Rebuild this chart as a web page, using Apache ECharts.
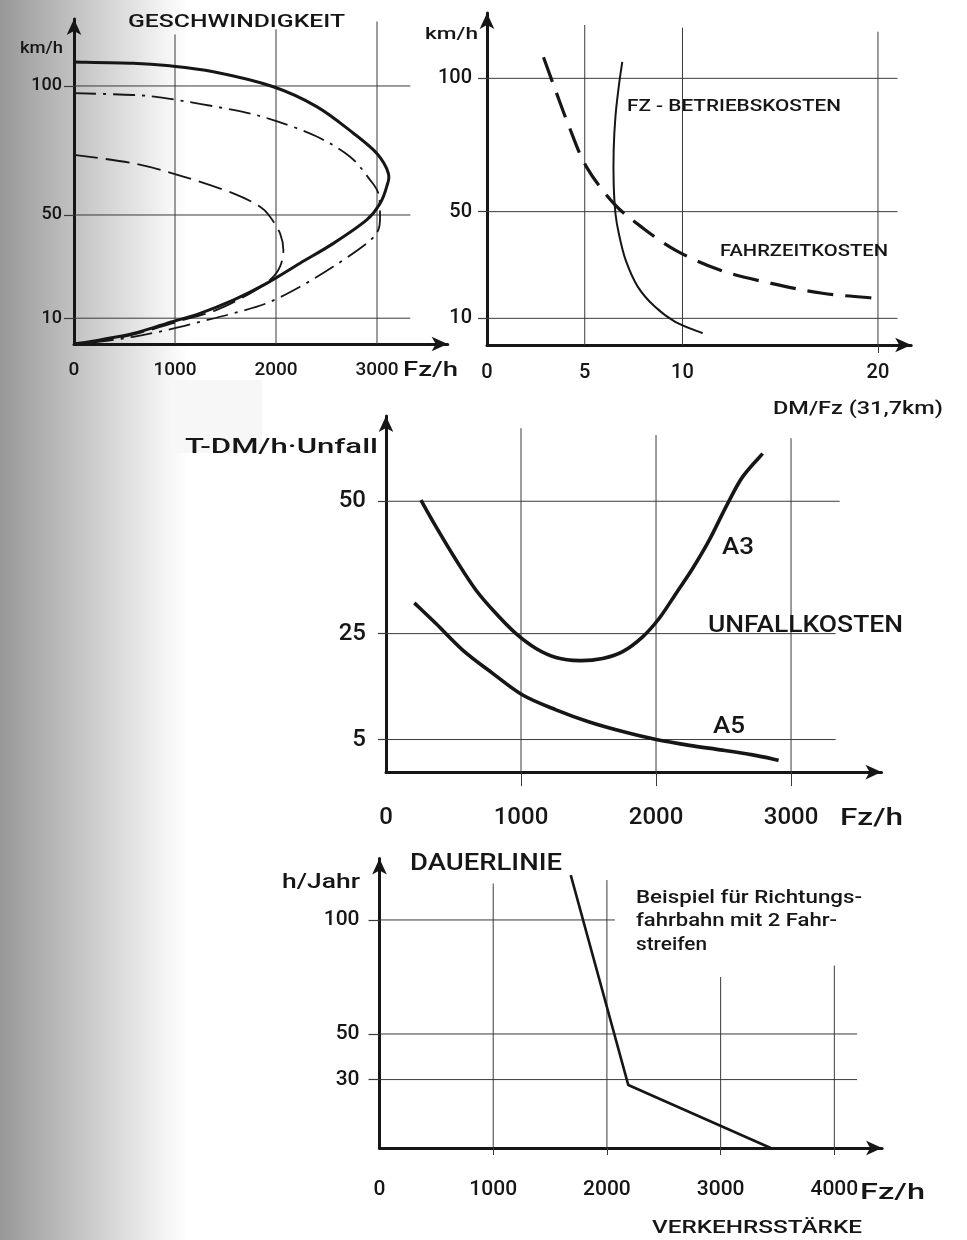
<!DOCTYPE html>
<html><head><meta charset="utf-8">
<style>html,body{margin:0;padding:0;background:#fff}#c{width:967px;height:1240px}</style>
<script src="https://cdn.jsdelivr.net/npm/echarts@6.0.0/dist/echarts.min.js"></script>
</head><body><div id="c"></div>
<script>
// ---------- Panel 1: GESCHWINDIGKEIT (km/h vs Fz/h) ----------
const p1XTicks = [0, 1000, 2000, 3000];
const p1YTicks = [10, 50, 100];
const p1VGridX = [1000, 2000, 3000];
const p1VGridTop = [120, 122, 125];
const p1HGridY = [10, 50, 100];
const p1HGridRight = [3330, 3330, 3330];
const p1Solid = [[0,109.3],[587,108.8],[918,107.9],[1380,105.5],[1973,99.7],[2403,92],[2766,81.7],[2997,73.9],[3112,66.2],[3096,61],[3030,54.5],[2898,48.1],[2568,39],[2238,31.3],[1908,23.5],[1577,17],[1248,11.9],[918,8],[587,4.1],[257,1.6],[0,0]];
const p1DashDot = [[0,97.2],[587,96.5],[918,95.2],[1577,90.7],[1973,86.8],[2403,80.4],[2733,72.6],[2931,63.6],[3013,58.4],[3030,50.7],[3013,44.2],[2898,39],[2568,30],[2238,22.2],[1908,15.8],[1577,11.9],[1248,8.6],[918,5.4],[587,2.8],[257,0.9],[0,0]];
const p1Dashed = [[0,73.3],[587,70],[1082,64.9],[1577,58.4],[1842,53.2],[1941,49.3],[2040,42.9],[2073,36.4],[2040,30],[1941,24.8],[1743,19.6],[1413,13.2],[1082,9.3],[752,5.4],[423,2.2],[0,0]];

// ---------- Panel 2: Kosten (km/h vs DM/Fz) ----------
const p2XTicks = [0, 5, 10, 20];
const p2YTicks = [10, 50, 100];
const p2VGridX = [5, 10, 20];
const p2VGridTop = [120, 119, 117.5];
const p2HGridY = [10, 50, 100];
const p2HGridRight = [21, 21, 21];
const p2Betrieb = [[6.92,106.2],[6.74,96.9],[6.57,85.6],[6.48,73.1],[6.48,60.6],[6.57,49.4],[6.74,41.9],[7.09,31.9],[7.71,21.9],[8.58,14.4],[9.63,8.7],[11.03,4.4]];
const p2Fahrzeit = [[2.89,107.9],[3.5,95.6],[4.2,81.9],[5.08,66.9],[6.48,53.1],[7.88,44.4],[9.63,35.6],[11.91,28.1],[14.54,23.1],[17.16,19.4],[20,17.5]];

// ---------- Panel 3: UNFALLKOSTEN ----------
const p3XTicks = [0, 1000, 2000, 3000];
const p3YTicks = [5, 25, 50];
const p3VGridX = [1000, 2000, 3000];
const p3VGridTop = [63.8, 62.5, 61.9];
const p3HGridY = [5, 25, 50];
const p3HGridRight = [3330, 3330, 3360];
const p3A3 = [[259,50.2],[370,45.2],[519,38.9],[667,33.2],[815,28.8],[963,25.0],[1111,22.2],[1259,20.5],[1432,19.9],[1604,20.3],[1753,21.6],[1901,24.4],[2024,27.9],[2148,32.6],[2271,37.3],[2395,42.7],[2519,49.0],[2641,54.6],[2790,59.0]];
const p3A5 = [[210,30.8],[370,26.9],[568,21.9],[790,17.5],[1012,13.4],[1259,10.6],[1506,8.3],[1753,6.5],[2000,5.0],[2247,3.9],[2494,3.0],[2716,2.1],[2908,1.1]];

// ---------- Panel 4: DAUERLINIE ----------
const p4XTicks = [0, 1000, 2000, 3000, 4000];
const p4YTicks = [30, 50, 100];
const p4VGridX = [1000, 2000, 3000, 4000];
const p4VGridTop = [116, 117.5, 75, 80];
const p4HGridY = [30, 50, 100];
const p4HGridRight = [4200, 4200, 2070];
const p4Dauer = [[1682,119.7],[2188,27.6],[3440,0]];

// ---------- Styling & layout ----------
const FONT = 'Roboto, "DejaVu Sans", sans-serif';
const INK = '#161616';
const GRIDC = '#3a3a3a';

const panels = [
  {grid:{left:74, top:18.9, width:373.7, height:325.1}, xMin:0, xMax:3700, yMin:0, yMax:126,
   xTicks:p1XTicks, yTicks:p1YTicks, xFs:19, yFs:18, xMargin:17, yMargin:12, yTickLen:10, xTickVals:[], xTickLen:0},
  {grid:{left:487, top:13, width:424.2, height:332}, xMin:0, xMax:21.7, yMin:0, yMax:124.5,
   xTicks:p2XTicks, yTicks:p2YTicks, xFs:20, yFs:20, xMargin:18, yMargin:15, yTickLen:9, xTickVals:[20], xTickLen:8},
  {grid:{left:386, top:416, width:495.5, height:356.1}, xMin:0, xMax:3670, yMin:-1.15, yMax:66.1,
   xTicks:p3XTicks, yTicks:p3YTicks, xFs:24, yFs:24, xMargin:34, yMargin:20, yTickLen:8, xTickVals:[1000,2000,3000], xTickLen:14},
  {grid:{left:379.5, top:858.4, width:502.6, height:289.6}, xMin:0, xMax:4420, yMin:0, yMax:127,
   xTicks:p4XTicks, yTicks:p4YTicks, xFs:21, yFs:21, xMargin:31, yMargin:20, yTickLen:11, xTickVals:[1000,2000,3000,4000], xTickLen:7}
];

const fmt = v => String(v);
const axisLineStyle = {show:true, onZero:false, lineStyle:{color:INK, width:3}, symbol:['none','arrow'], symbolSize:[11,16]};

const grids = panels.map(p => Object.assign({outerBoundsMode:'none', containLabel:false}, p.grid));
const xAxes = panels.map((p,i) => ({
  gridIndex:i, type:'value', min:p.xMin, max:p.xMax, splitLine:{show:false},
  axisLine:axisLineStyle,
  axisTick:{show:p.xTickVals.length>0, customValues:p.xTickVals.length?p.xTickVals:undefined, length:p.xTickLen, lineStyle:{color:GRIDC,width:1}},
  axisLabel:{customValues:p.xTicks, formatter:fmt, fontFamily:FONT, fontSize:p.xFs, fontWeight:500, color:INK, margin:p.xMargin}
}));
const yAxes = panels.map((p,i) => ({
  gridIndex:i, type:'value', min:p.yMin, max:p.yMax, splitLine:{show:false},
  axisLine:axisLineStyle,
  axisTick:{show:true, customValues:p.yTicks, length:p.yTickLen, lineStyle:{color:GRIDC,width:1.2}},
  axisLabel:{customValues:p.yTicks, formatter:fmt, fontFamily:FONT, fontSize:p.yFs, fontWeight:500, color:INK, margin:p.yMargin}
}));

function seg(i, data){
  return {type:'line', xAxisIndex:i, yAxisIndex:i, data, symbol:'none', silent:true, z:1,
          lineStyle:{width:1, color:GRIDC}, animation:false, clip:false};
}
function gridLines(i, vx, vtop, hy, hright){
  const ymin = panels[i].yMin;
  const out = [];
  vx.forEach((x,k)=>out.push(seg(i, [[x, ymin],[x, vtop[k]]])));
  hy.forEach((y,k)=>out.push(seg(i, [[0, y],[hright[k], y]])));
  return out;
}
// Smooth curve: the read points are mapped through the axes (api.coord) and joined with a
// Catmull-Rom style bezier path.
function curve(i, pts, width, dash){
  return {
    type:'custom', xAxisIndex:i, yAxisIndex:i, data: pts, silent:true, z:3, animation:false, clip:false,
    encode:{x:0, y:1},
    renderItem: function(params, api){
      if (params.dataIndex !== 0) return null;
      const c = pts.map(p => api.coord(p));
      let d = 'M' + c[0][0] + ',' + c[0][1];
      for (let k = 0; k < c.length - 1; k++){
        const p0 = c[k-1] || c[k], p1 = c[k], p2 = c[k+1], p3 = c[k+2] || c[k+1];
        const c1x = p1[0] + (p2[0]-p0[0])/6, c1y = p1[1] + (p2[1]-p0[1])/6;
        const c2x = p2[0] - (p3[0]-p1[0])/6, c2y = p2[1] - (p3[1]-p1[1])/6;
        d += ' C' + c1x + ',' + c1y + ' ' + c2x + ',' + c2y + ' ' + p2[0] + ',' + p2[1];
      }
      return {type:'path', shape:{pathData:d},
              style:{fill:null, stroke:INK, lineWidth:width, lineDash:dash || null, lineCap:'butt', lineJoin:'round'}};
    }
  };
}
function poly(i, data, width){
  return {type:'line', xAxisIndex:i, yAxisIndex:i, data, symbol:'none', silent:true, z:3,
          lineStyle:{width, color:INK}, animation:false, clip:false};
}

const series = [].concat(
  gridLines(0, p1VGridX, p1VGridTop, p1HGridY, p1HGridRight),
  gridLines(1, p2VGridX, p2VGridTop, p2HGridY, p2HGridRight),
  gridLines(2, p3VGridX, p3VGridTop, p3HGridY, p3HGridRight),
  gridLines(3, p4VGridX, p4VGridTop, p4HGridY, p4HGridRight),
  [
    curve(0, p1Solid, 3),
    curve(0, p1DashDot, 1.8, [22,7,3,7]),
    curve(0, p1Dashed, 1.8, [24,8]),
    curve(1, p2Betrieb, 2),
    curve(1, p2Fahrzeit, 3.2, [26,12]),
    curve(2, p3A3, 3.6),
    curve(2, p3A5, 3.6),
    poly(3, p4Dauer, 2.6)
  ]
);

// ---------- Text labels (stretched to reference widths) ----------
const mctx = document.createElement('canvas').getContext('2d');
function txt(text, x, y, size, w, weight){
  const font = (weight||'500') + ' ' + size + 'px ' + FONT;
  mctx.font = font;
  const mw = mctx.measureText(text).width || 1;
  return {type:'text', x, y, scaleX: w ? w/mw : 1, z:50, silent:true,
          style:{text, font, fill:INK, align:'left', verticalAlign:'middle'}};
}
const labels = [
  txt('GESCHWINDIGKEIT', 128, 22, 19, 217),
  txt('km/h', 20, 48.5, 16, 43),
  txt('Fz/h', 403, 371, 20, 55),
  txt('km/h', 425, 35, 17, 53),
  txt('FZ - BETRIEBSKOSTEN', 627, 107, 17, 214),
  txt('FAHRZEITKOSTEN', 720, 252, 17, 168),
  txt('DM/Fz (31,7km)', 773, 409, 18, 170),
  txt('T-DM/h·Unfall', 185, 448, 21, 193),
  txt('A3', 722, 548, 23, 32),
  txt('A5', 713, 727, 23, 32),
  txt('UNFALLKOSTEN', 708, 626, 24, 195),
  txt('Fz/h', 840, 819, 24, 63),
  txt('DAUERLINIE', 410, 864, 23, 152),
  txt('h/Jahr', 282, 883, 21, 78),
  txt('Beispiel für Richtungs-', 636, 898, 18, 226),
  txt('fahrbahn mit 2 Fahr-', 636, 921.5, 18, 201),
  txt('streifen', 636, 945, 18, 71),
  txt('Fz/h', 860, 1193, 22, 65),
  txt('VERKEHRSSTÄRKE', 652, 1228, 18, 210)
];
const bgRect = {type:'rect', z:-10, silent:true, shape:{x:170, y:380, width:92, height:73}, style:{fill:'#f7f7f7'}};

const chart = echarts.init(document.getElementById('c'), null, {renderer:'canvas', width:967, height:1240});
chart.setOption({
  animation:false,
  backgroundColor: new echarts.graphic.LinearGradient(0,0,1,0,[
    {offset:0, color:'#979797'}, {offset:0.06, color:'#b9b9b9'}, {offset:0.12, color:'#d9d9d9'},
    {offset:0.175, color:'#f6f6f6'}, {offset:0.195, color:'#ffffff'}, {offset:1, color:'#ffffff'}]),
  grid: grids, xAxis: xAxes, yAxis: yAxes, series,
  graphic: {elements: [bgRect].concat(labels)}
});
</script></body></html>
